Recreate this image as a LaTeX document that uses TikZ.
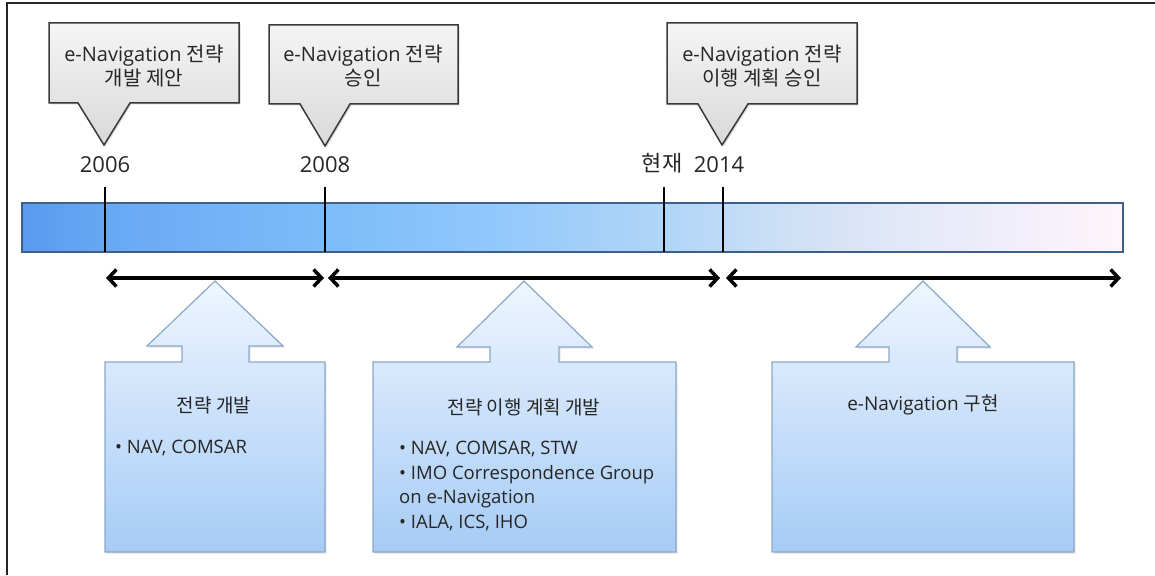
\documentclass[tikz,border=0pt]{standalone}
\usepackage{fontspec}
\setmainfont{Open Sans}
\newfontfamily\kr{Noto Sans CJK KR}
\usetikzlibrary{arrows.meta,shadows}
\definecolor{txt}{HTML}{262626}
\definecolor{calloutline}{HTML}{3A3A3A}
\definecolor{bartop}{HTML}{3D5F8A}
\definecolor{blkline}{HTML}{8AA8C8}
\definecolor{bA}{HTML}{5A9AEE}
\definecolor{bB}{HTML}{68A9F4}
\definecolor{bC}{HTML}{7DBCFA}
\definecolor{bD}{HTML}{93C9FB}
\definecolor{bE}{HTML}{B0D5F8}
\definecolor{bF}{HTML}{C7DEF6}
\definecolor{bG}{HTML}{E3E8F8}
\definecolor{bH}{HTML}{FFF5FB}
\pgfdeclarehorizontalshading{barshade}{100bp}{color(0bp)=(bA); color(25bp)=(bA); color(29bp)=(bB); color(39bp)=(bC); color(46.7bp)=(bD); color(54bp)=(bE); color(58.5bp)=(bF); color(65bp)=(bG); color(75bp)=(bH); color(100bp)=(bH)}
\tikzset{
  callout/.style={draw=calloutline, line width=1.5pt, top color=black!4, bottom color=black!15, line join=miter,
    drop shadow={shadow xshift=1.5pt, shadow yshift=-1.5pt, fill=black!30, opacity=0.5}},
  block/.style={draw=blkline, line width=1.2pt, top color={rgb,255:red,238;green,246;blue,255}, bottom color={rgb,255:red,166;green,203;blue,245},
    drop shadow={shadow xshift=1.5pt, shadow yshift=-1.5pt, fill=black!25, opacity=0.4}},
  calltext/.style={align=center, text=txt, font=\fontsize{20}{24}\selectfont},
  yeartext/.style={text=txt, font=\fontsize{22}{26}\selectfont},
  titletext/.style={text=txt, font=\fontsize{19}{23}\selectfont},
  bullettext/.style={align=left, text=txt, anchor=north west, inner sep=0pt, font=\fontsize{18.5}{24.5}\selectfont},
  tick/.style={line width=2.5pt, black},
  span/.style={line width=3.5pt, black, {Straight Barb[length=8pt,width=17pt]}-{Straight Barb[length=8pt,width=17pt]}},
}
\begin{document}
\begin{tikzpicture}[x=1pt,y=-1pt]
\useasboundingbox (0,0) rectangle (1155,575);
% frame
\draw[line width=1.5pt, black!85] (7,575) -- (7,3) -- (1155,3);
% callouts
\draw[callout] (49,23) -- (239,23) -- (239,103) -- (130,103) -- (104,145) -- (78,103) -- (49,103) -- cycle;
\draw[callout] (269,25) -- (458,25) -- (458,104) -- (350,104) -- (325,146) -- (300,104) -- (269,104) -- cycle;
\draw[callout] (667,23) -- (857,23) -- (857,104) -- (748,104) -- (722,145) -- (698,104) -- (667,104) -- cycle;
\node[calltext] (c1) at (144,66) {e-Navigation {\kr 전략}\\{\kr 개발 제안}};
\node[calltext] (c2) at (363,66) {e-Navigation {\kr 전략}\\{\kr 승인}};
\node[calltext] (c3) at (762,66) {e-Navigation {\kr 전략}\\{\kr 이행 계획 승인}};
% years
\node[yeartext] (y06) at (105,165) {2006};
\node[yeartext] (y08) at (325,165) {2008};
\node[yeartext] (ynow) at (662,163) {\kr 현재};
\node[yeartext] (y14) at (719,165) {2014};
% bar
\path[shading=barshade, draw=bartop, line width=1.5pt] (22,203) rectangle (1123,252);
\node[inner sep=0pt, minimum size=0pt] (bar) at (572,227) {};
% ticks
\coordinate (t06a) at (105,187); \coordinate (t06b) at (105,252);
\coordinate (t08a) at (325,187); \coordinate (t08b) at (325,252);
\coordinate (tnwa) at (664,187); \coordinate (tnwb) at (664,252);
\coordinate (t14a) at (723,187); \coordinate (t14b) at (723,252);
\draw[tick] (t06a) -- (t06b);
\draw[tick] (t08a) -- (t08b);
\draw[tick] (tnwa) -- (tnwb);
\draw[tick] (t14a) -- (t14b);
% spans
\coordinate (s1a) at (106,278); \coordinate (s1b) at (324,278);
\coordinate (s2a) at (328,278); \coordinate (s2b) at (720,278);
\coordinate (s3a) at (726,278); \coordinate (s3b) at (1121,278);
\draw[span] (s1a) -- (s1b);
\draw[span] (s2a) -- (s2b);
\draw[span] (s3a) -- (s3b);
% blocks with up arrows
\draw[block] (105,552) -- (105,362) -- (182,362) -- (182,346) -- (147,346) -- (215,281) -- (283,346) -- (249,346) -- (249,362) -- (325,362) -- (325,552) -- cycle;
\draw[block] (373,552) -- (373,362) -- (490,362) -- (490,347) -- (457,347) -- (524,281) -- (592,347) -- (559,347) -- (559,362) -- (676,362) -- (676,552) -- cycle;
\draw[block] (772,552) -- (772,362) -- (889,362) -- (889,347) -- (856,347) -- (923,281) -- (990,347) -- (957,347) -- (957,362) -- (1074,362) -- (1074,552) -- cycle;
% block texts
\node[titletext] (h1) at (214,405) {\kr 전략 개발};
\node[bullettext] (b1) at (115,440) {• NAV, COMSAR};
\node[titletext] (h2) at (524,407) {\kr 전략 이행 계획 개발};
\node[bullettext] (b2) at (399,441) {• NAV, COMSAR, STW\\• IMO Correspondence Group\\on e-Navigation\\• IALA, ICS, IHO};
\node[titletext] (h3) at (923,405) {e-Navigation {\kr 구현}};
\end{tikzpicture}
\end{document}
